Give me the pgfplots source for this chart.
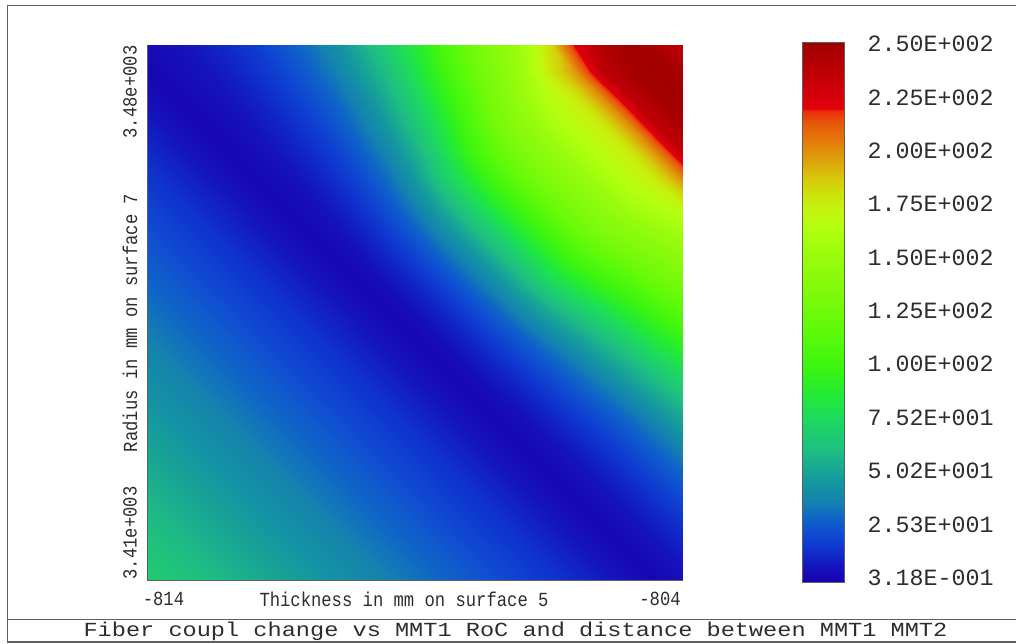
\documentclass[border=0pt]{standalone}
\usepackage{fontspec}
\setmainfont{Liberation Mono}
\usepackage{graphicx}
\usepackage{pgfplots}
\usepackage{pgfplotstable}
\pgfplotsset{compat=1.18}
\definecolor{txt}{RGB}{45,45,45}
\definecolor{frm}{RGB}{95,95,95}
\pgfplotsset{colormap={zemax}{
rgb255(0)=(25,0,175)
rgb255(30)=(20,20,190)
rgb255(60)=(15,50,205)
rgb255(90)=(15,75,210)
rgb255(120)=(15,100,200)
rgb255(150)=(20,130,175)
rgb255(185)=(20,150,160)
rgb255(245)=(30,190,130)
rgb255(310)=(30,220,90)
rgb255(350)=(35,235,50)
rgb255(400)=(60,245,15)
rgb255(460)=(90,250,10)
rgb255(520)=(120,250,10)
rgb255(600)=(150,252,12)
rgb255(660)=(180,255,15)
rgb255(690)=(195,245,15)
rgb255(720)=(205,225,10)
rgb255(750)=(215,200,10)
rgb255(780)=(220,165,10)
rgb255(820)=(228,120,10)
rgb255(850)=(230,90,10)
rgb255(874)=(235,45,10)
rgb255(878)=(228,0,12)
rgb255(1000)=(160,0,0)
}}
\pgfplotstableread{
x y z
0 0 67.8
1 0 64.2
2 0 60.7
3 0 57.1
4 0 53.6
5 0 50.0
6 0 46.5
7 0 42.9
8 0 39.4
9 0 35.8
10 0 32.3
11 0 28.7
12 0 25.2
13 0 21.6
14 0 18.1
15 0 14.5
16 0 11.0
17 0 7.4
18 0 3.9
19 0 0.32
20 0 3.3
0 1 64.2
1 1 60.7
2 1 57.1
3 1 53.6
4 1 50.0
5 1 46.5
6 1 42.9
7 1 39.4
8 1 35.8
9 1 32.3
10 1 28.7
11 1 25.2
12 1 21.6
13 1 18.1
14 1 14.5
15 1 11.0
16 1 7.4
17 1 3.9
18 1 0.32
19 1 3.3
20 1 7.4
0 2 60.7
1 2 57.1
2 2 53.6
3 2 50.0
4 2 46.5
5 2 42.9
6 2 39.4
7 2 35.8
8 2 32.3
9 2 28.7
10 2 25.2
11 2 21.6
12 2 18.1
13 2 14.5
14 2 11.0
15 2 7.4
16 2 3.9
17 2 0.32
18 2 3.3
19 2 7.5
20 2 12.7
0 3 57.1
1 3 53.6
2 3 50.0
3 3 46.5
4 3 42.9
5 3 39.4
6 3 35.8
7 3 32.3
8 3 28.7
9 3 25.2
10 3 21.6
11 3 18.1
12 3 14.5
13 3 11.0
14 3 7.4
15 3 3.9
16 3 0.32
17 3 3.4
18 3 7.6
19 3 13.0
20 3 19.6
0 4 53.6
1 4 50.0
2 4 46.5
3 4 42.9
4 4 39.4
5 4 35.8
6 4 32.3
7 4 28.7
8 4 25.2
9 4 21.6
10 4 18.1
11 4 14.5
12 4 11.0
13 4 7.4
14 4 3.9
15 4 0.32
16 4 3.4
17 4 7.7
18 4 13.2
19 4 20.0
20 4 28.2
0 5 50.0
1 5 46.5
2 5 42.9
3 5 39.4
4 5 35.8
5 5 32.3
6 5 28.7
7 5 25.2
8 5 21.6
9 5 18.1
10 5 14.5
11 5 11.0
12 5 7.4
13 5 3.9
14 5 0.32
15 5 3.5
16 5 7.9
17 5 13.4
18 5 20.4
19 5 28.8
20 5 38.4
0 6 46.5
1 6 42.9
2 6 39.4
3 6 35.8
4 6 32.3
5 6 28.7
6 6 25.2
7 6 21.6
8 6 18.1
9 6 14.5
10 6 11.0
11 6 7.4
12 6 3.9
13 6 0.32
14 6 3.6
15 6 8.3
16 6 14.1
17 6 21.2
18 6 29.4
19 6 39.2
20 6 51.2
0 7 42.9
1 7 39.4
2 7 35.8
3 7 32.3
4 7 28.7
5 7 25.2
6 7 21.6
7 7 18.1
8 7 14.5
9 7 11.0
10 7 7.4
11 7 3.9
12 7 0.32
13 7 3.8
14 7 8.6
15 7 14.8
16 7 22.5
17 7 31.3
18 7 41.0
19 7 52.2
20 7 64.9
0 8 39.4
1 8 35.8
2 8 32.3
3 8 28.7
4 8 25.2
5 8 21.6
6 8 18.1
7 8 14.5
8 8 11.0
9 8 7.4
10 8 3.9
11 8 0.32
12 8 4.0
13 8 9.2
14 8 15.8
15 8 23.8
16 8 33.2
17 8 43.9
18 8 55.7
19 8 67.6
20 8 79.5
0 9 35.8
1 9 32.3
2 9 28.7
3 9 25.2
4 9 21.6
5 9 18.1
6 9 14.5
7 9 11.0
8 9 7.4
9 9 3.9
10 9 0.32
11 9 4.0
12 9 9.5
13 9 17.0
14 9 25.9
15 9 35.8
16 9 46.8
17 9 59.2
18 9 71.8
19 9 84.4
20 9 96.2
0 10 32.3
1 10 28.7
2 10 25.2
3 10 21.6
4 10 18.1
5 10 14.5
6 10 11.0
7 10 7.4
8 10 3.9
9 10 0.32
10 10 4.0
11 10 9.5
12 10 17.0
13 10 27.0
14 10 39.0
15 10 51.6
16 10 64.1
17 10 76.1
18 10 89.2
19 10 101.5
20 10 113.3
0 11 28.7
1 11 25.2
2 11 21.6
3 11 18.1
4 11 14.5
5 11 11.0
6 11 7.4
7 11 3.9
8 11 0.32
9 11 4.0
10 11 9.5
11 11 17.0
12 11 27.0
13 11 39.0
14 11 54.0
15 11 70.0
16 11 83.3
17 11 95.6
18 11 106.8
19 11 119.1
20 11 128.2
0 12 25.2
1 12 21.6
2 12 18.1
3 12 14.5
4 12 11.0
5 12 7.4
6 12 3.9
7 12 0.32
8 12 3.8
9 12 9.3
10 12 17.0
11 12 27.0
12 12 39.0
13 12 54.0
14 12 70.0
15 12 87.0
16 12 103.5
17 12 115.5
18 12 125.2
19 12 133.0
20 12 141.9
0 13 21.6
1 13 18.1
2 13 14.5
3 13 11.0
4 13 7.4
5 13 3.9
6 13 0.32
7 13 3.5
8 13 8.5
9 13 16.1
10 13 26.2
11 13 39.0
12 13 54.0
13 13 70.0
14 13 87.0
15 13 103.5
16 13 120.0
17 13 132.5
18 13 141.0
19 13 148.6
20 13 155.1
0 14 18.1
1 14 14.5
2 14 11.0
3 14 7.4
4 14 3.9
5 14 0.32
6 14 3.2
7 14 7.6
8 14 13.9
9 14 23.4
10 14 36.6
11 14 52.2
12 14 70.0
13 14 87.0
14 14 103.5
15 14 120.0
16 14 132.5
17 14 145.0
18 14 156.5
19 14 163.6
20 14 172.0
0 15 14.5
1 15 11.0
2 15 7.4
3 15 3.9
4 15 0.32
5 15 3.0
6 15 6.8
7 15 12.3
8 15 20.0
9 15 30.6
10 15 45.9
11 15 65.5
12 15 84.3
13 15 103.5
14 15 120.0
15 15 132.5
16 15 145.0
17 15 156.5
18 15 168.0
19 15 176.0
20 15 200.0
0 16 11.0
1 16 7.4
2 16 3.9
3 16 0.32
4 16 2.8
5 16 6.2
6 16 10.7
7 16 17.2
8 16 26.5
9 16 38.4
10 16 54.3
11 16 74.8
12 16 97.6
13 16 116.7
14 16 132.5
15 16 145.0
16 16 156.5
17 16 168.0
18 16 176.0
19 16 200.0
20 16 236.0
0 17 7.4
1 17 3.9
2 17 0.32
3 17 2.6
4 17 5.6
5 17 9.6
6 17 15.4
7 17 23.0
8 17 33.4
9 17 47.0
10 17 63.6
11 17 82.6
12 17 105.2
13 17 127.0
14 17 142.0
15 17 156.5
16 17 168.0
17 17 176.0
18 17 200.0
19 17 236.0
20 17 247.0
0 18 3.9
1 18 0.32
2 18 2.5
3 18 5.1
4 18 8.8
5 18 13.9
6 18 20.6
7 18 29.1
8 18 39.6
9 18 54.6
10 18 71.9
11 18 91.1
12 18 111.1
13 18 131.5
14 18 150.5
15 18 164.8
16 18 176.0
17 18 200.0
18 18 236.0
19 18 247.0
20 18 250.0
0 19 0.32
1 19 2.3
2 19 4.7
3 19 8.1
4 19 12.5
5 19 18.2
6 19 25.9
7 19 35.4
8 19 47.5
9 19 61.7
10 19 79.4
11 19 98.4
12 19 118.4
13 19 134.8
14 19 153.5
15 19 176.0
16 19 198.0
17 19 236.0
18 19 247.0
19 19 250.0
20 19 246.0
0 20 2.2
1 20 4.2
2 20 7.4
3 20 11.3
4 20 16.3
5 20 23.0
6 20 31.4
7 20 41.8
8 20 54.8
9 20 69.4
10 20 85.6
11 20 104.5
12 20 123.4
13 20 139.4
14 20 155.4
15 20 179.2
16 20 222.4
17 20 243.0
18 20 250.0
19 20 246.0
20 20 236.0
}\fieldtable
\begin{document}
\begin{tikzpicture}[x=1pt,y=1pt]
\useasboundingbox (0pt,0pt) rectangle (1016pt,644pt);
\begin{axis}[
  at={(147.5pt,64pt)}, anchor=south west,
  scale only axis, width=534.5pt, height=535pt,
  xmin=0, xmax=20, ymin=0, ymax=20,
  enlargelimits=false,
  ticks=none,
  axis line style={frm, line width=0.8pt},
  colormap name=zemax,
  point meta min=-2, point meta max=250.6,
  colorbar,
  colorbar/width=42pt,
  colorbar style={
    at={(parent axis.north east)}, anchor=north west,
    xshift=112pt, yshift=2.3pt,
    scale only axis, width=42pt, height=540pt,
    ytick={0.318,25.29,50.25,75.22,100.19,125.16,150.13,175.1,200.06,225.03,250},
    yticklabels={3.18E-001,2.53E+001,5.02E+001,7.52E+001,1.00E+002,1.25E+002,1.50E+002,1.75E+002,2.00E+002,2.25E+002,2.50E+002},
    yticklabel style={font=\fontsize{23.3}{27}\selectfont, text=txt, anchor=west, inner sep=0pt, xshift=23pt},
    major tick length=0pt,
    axis line style={frm, line width=0.8pt},
  },
]
\addplot[surf, shader=interp, mesh/cols=21, point meta=explicit] table[x=x, y=y, meta=z] {\fieldtable};
\end{axis}
% frame
\draw[frm, line width=1.2pt] (1016pt,638.5pt) -- (7.5pt,638.5pt) -- (7.5pt,2pt) -- (1016pt,2pt);
\draw[frm, line width=1.2pt] (7.5pt,24.5pt) -- (1016pt,24.5pt);
% axis labels
\begin{scope}[every node/.style={inner sep=0pt, text=txt, font=\fontsize{20}{24}\selectfont}]
\node at (163.5pt,45pt) {\scalebox{0.86}[1]{-814}};
\node at (404pt,45pt) {\scalebox{0.86}[1]{Thickness in mm on surface 5}};
\node at (660pt,45pt) {\scalebox{0.86}[1]{-804}};
\node[rotate=90] at (130pt,111pt) {\scalebox{0.86}[1]{3.41e+003}};
\node[rotate=90] at (130pt,321pt) {\scalebox{0.86}[1]{Radius in mm on surface 7}};
\node[rotate=90] at (130pt,552pt) {\scalebox{0.86}[1]{3.48e+003}};
\node at (515.5pt,13pt) {\scalebox{1.18}[1]{Fiber coupl change vs MMT1 RoC and distance between MMT1 MMT2}};
\end{scope}
\end{tikzpicture}
\end{document}
